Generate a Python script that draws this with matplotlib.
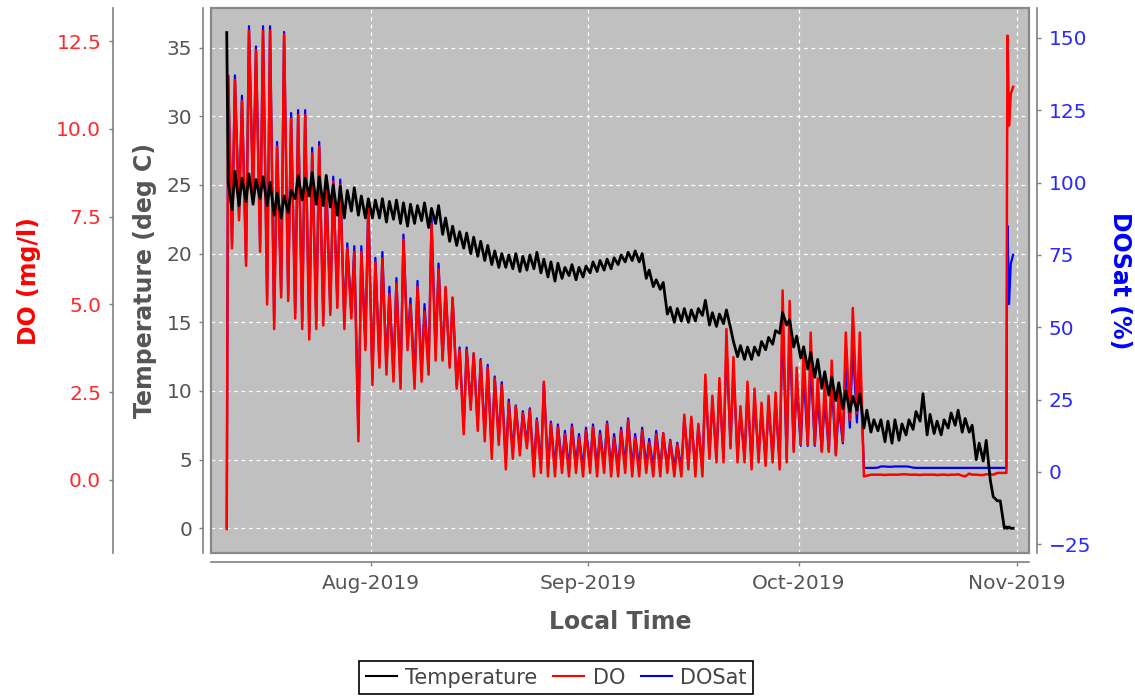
import numpy as np
import matplotlib
matplotlib.use("Agg")
import matplotlib.pyplot as plt
import matplotlib.dates as mdates
from matplotlib.patches import Rectangle

# Daily readings, 2019-07-12 .. 2019-10-29
# (one morning value ~06:00, one afternoon value ~16:00 per day)
first_day = "2019-07-12"

temp_am = [
    23.2, 23.5, 23.8, 23.6, 24.0, 23.5, 22.8, 22.6, 23.0, 24.0,
    23.9, 24.2, 23.6, 23.5, 23.4, 22.8, 22.6, 23.1, 22.8, 22.6,
    22.6, 22.6, 22.3, 22.5, 22.2, 22.0, 22.2, 22.4, 21.9, 22.2,
    21.4, 20.9, 20.6, 20.4, 20.0, 19.8, 19.5, 19.2, 19.0, 19.0,
    18.9, 18.7, 18.8, 18.9, 18.6, 18.3, 18.0, 18.2, 18.4, 18.1, 18.3,
    18.6, 18.7, 18.8, 18.9, 19.2, 19.4, 19.5, 19.4, 18.2, 17.6,
    17.4, 15.6, 15.0, 15.1, 15.0, 15.1, 15.5, 14.8, 14.7, 14.9,
    14.6, 12.5, 12.3, 12.3, 12.6, 13.0, 13.4, 14.2, 14.8, 13.2,
    12.4, 11.6, 11.0, 10.2, 9.7, 9.3, 8.7, 8.5, 8.6, 7.3,
    7.0, 7.1, 6.3, 6.2, 6.4, 6.8, 7.2, 7.8, 6.8, 6.9,
    6.8, 7.3, 7.5, 7.0, 7.0, 5.0, 4.9, 3.5, 2.0,
]
temp_pm = [
    26.0, 25.5, 25.8, 25.4, 25.6, 25.2, 24.4, 24.2, 24.6, 25.7,
    25.5, 25.9, 25.6, 25.7, 25.0, 24.9, 24.6, 24.8, 24.2, 24.0,
    23.9, 24.0, 23.8, 23.9, 23.7, 23.6, 23.5, 23.7, 23.3, 23.5,
    22.6, 22.0, 21.6, 21.5, 21.2, 20.9, 20.6, 20.2, 20.0, 19.9,
    20.0, 19.8, 19.9, 20.1, 19.6, 19.4, 19.3, 19.0, 19.2, 19.0, 19.1,
    19.4, 19.5, 19.6, 19.7, 19.9, 20.1, 20.2, 20.0, 18.8, 18.1,
    17.9, 16.1, 16.0, 16.0, 15.9, 16.0, 16.6, 15.7, 15.6, 15.9,
    13.6, 13.3, 13.2, 13.2, 13.6, 13.9, 14.4, 15.7, 15.2, 14.0,
    13.2, 12.8, 12.3, 11.4, 11.0, 10.6, 10.0, 9.6, 9.8, 8.6,
    7.9, 7.9, 7.8, 7.9, 7.6, 7.9, 8.5, 9.8, 8.3, 7.8,
    7.9, 8.4, 8.6, 8.0, 7.5, 6.2, 6.4, 2.3, 2.0,
]

do_am = [
    6.6, 7.4, 6.1, 8.0, 6.5, 5.0, 4.3, 5.2, 5.1, 4.6,
    4.3, 4.0, 4.3, 4.4, 4.7, 4.9, 4.3, 4.6, 1.1, 3.7,
    2.7, 3.2, 3.0, 2.8, 2.6, 3.7, 2.6, 2.8, 3.0, 3.4,
    3.4, 3.2, 2.6, 1.3, 2.0, 1.4, 1.1, 0.6, 1.0, 0.3,
    0.6, 0.7, 0.9, 0.1, 0.2, 0.1, 0.1, 0.2, 0.1, 0.2, 0.1,
    0.2, 0.1, 0.2, 0.1, 0.1, 0.2, 0.1, 0.1, 0.2, 0.1,
    0.1, 0.2, 0.1, 0.1, 0.3, 0.1, 0.1, 0.6, 0.5, 0.5,
    0.9, 0.5, 0.5, 0.3, 0.5, 0.4, 0.5, 0.3, 0.5, 0.8,
    1.0, 1.0, 1.0, 0.8, 0.8, 0.7, 1.1, 1.7, 1.9, 0.10,
    0.15, 0.15, 0.14, 0.15, 0.15, 0.16, 0.15, 0.14, 0.15, 0.15,
    0.15, 0.14, 0.15, 0.12, 0.18, 0.15, 0.14, 0.16, 0.2,
]
do_pm = [
    11.4, 10.8, 12.8, 12.25, 12.8, 12.8, 9.5, 12.7, 10.3, 10.4,
    10.4, 9.3, 9.5, 8.4, 8.5, 8.4, 6.6, 6.5, 6.5, 7.8,
    6.2, 6.3, 5.3, 5.6, 6.85, 5.0, 5.5, 4.8, 7.3, 6.0,
    5.5, 5.2, 3.7, 3.7, 3.6, 3.4, 3.2, 2.9, 2.7, 2.2,
    2.1, 1.9, 2.0, 1.7, 2.8, 1.6, 1.5, 1.3, 1.5, 1.2, 1.4,
    1.5, 1.3, 1.6, 1.2, 1.4, 1.7, 1.2, 1.4, 1.05, 1.3,
    1.33, 1.1, 1.0, 1.86, 1.8, 1.6, 3.0, 2.4, 2.9, 4.3,
    3.5, 2.1, 2.8, 2.6, 2.2, 2.4, 2.5, 5.4, 5.1, 3.2,
    3.8, 4.2, 2.9, 2.8, 3.4, 2.5, 4.2, 4.9, 4.2, 0.12,
    0.15, 0.15, 0.15, 0.15, 0.16, 0.15, 0.15, 0.15, 0.15, 0.14,
    0.15, 0.15, 0.16, 0.10, 0.15, 0.14, 0.16, 0.15, 0.2,
]

sat_am = [
    79, 89, 73, 96, 78, 60, 52, 62, 61, 55,
    52, 48, 52, 53, 56, 59, 52, 55, 13, 44,
    32, 38, 36, 34, 31, 44, 31, 34, 36, 41,
    39, 37, 30, 15, 23, 16, 13, 7, 11, 3.5,
    6.5, 7.6, 9.8, 1.1, 2.2, 1.1, 1.1, 2.2, 1.1, 2.2, 1.1,
    2.2, 1.1, 2.2, 1.1, 1.1, 2.2, 1.1, 1.1, 2.2, 1.1,
    1.0, 2.0, 1.0, 1.0, 3.0, 1.0, 1.0, 6.1, 5.1, 5.1,
    9.1, 4.9, 4.9, 2.9, 4.9, 3.9, 4.9, 2.9, 4.9, 7.8,
    9.0, 9.0, 9.0, 7.2, 7.2, 6.3, 9.9, 15.3, 17.1, 1.4,
    1.4, 1.5, 1.9, 1.8, 1.9, 1.9, 1.5, 1.4, 1.4, 1.4,
    1.4, 1.4, 1.4, 1.4, 1.4, 1.4, 1.4, 1.4, 1.4,
]
sat_pm = [
    137, 130, 154, 147, 154, 154, 114, 152, 124, 125,
    125, 112, 114, 101, 102, 101, 79, 78, 78, 94,
    74, 76, 64, 67, 82, 60, 66, 58, 88, 72,
    63, 60, 43, 43, 41, 39, 37, 33, 31, 25,
    23, 21, 22, 18.5, 30.5, 17.4, 16.4, 14.2, 16.4, 13.1, 15.3,
    16.4, 14.2, 17.4, 13.1, 15.3, 18.5, 13.1, 15.3, 11.4, 14.2,
    13.4, 11.1, 10.1, 18.8, 18.2, 16.2, 30.3, 24.2, 29.3, 43.4,
    35.4, 20.4, 27.2, 25.2, 21.3, 23.3, 24.3, 52.4, 49.5, 31.0,
    34.2, 37.8, 26.1, 25.2, 30.6, 22.5, 37.8, 44.1, 37.8, 1.4,
    1.4, 1.9, 1.8, 1.9, 1.9, 1.8, 1.4, 1.4, 1.4, 1.4,
    1.4, 1.4, 1.4, 1.4, 1.4, 1.4, 1.4, 1.4, 1.4,
]

# logger switched on in air, then deployed
head_times = ["2019-07-11T12:00", "2019-07-11T17:00"]
head_temp = [36.1, 25.2]
head_do = [-1.4, 11.5]
head_sat = [-19.0, 137.0]

# retrieval at the end
tail_times = ["2019-10-30T06:00", "2019-10-30T13:00", "2019-10-30T15:00",
              "2019-10-30T17:00", "2019-10-30T22:00", "2019-10-31T04:00",
              "2019-10-31T12:00"]
tail_temp = [0.0, 0.1, 0.0, 0.0, 0.1, 0.0, 0.0]
tail_do = [0.2, 0.2, 8.6, 12.66, 10.1, 11.0, 11.2]
tail_sat = [1.4, 1.4, 60, 85, 58, 72, 75]


def build(head, am, pm, tail):
    vals = np.empty(2 * len(am))
    vals[0::2] = am
    vals[1::2] = pm
    return np.concatenate([head, vals, tail])


n = len(temp_am)
days = np.datetime64(first_day, "m") + np.arange(n) * np.timedelta64(1, "D")
t_daily = np.empty(2 * n, dtype="datetime64[m]")
t_daily[0::2] = days + np.timedelta64(6, "h")
t_daily[1::2] = days + np.timedelta64(16, "h")
times = np.concatenate([np.array(head_times, dtype="datetime64[m]"), t_daily,
                        np.array(tail_times, dtype="datetime64[m]")])

temp = build(head_temp, temp_am, temp_pm, tail_temp)
do = build(head_do, do_am, do_pm, tail_do)
dosat = build(head_sat, sat_am, sat_pm, tail_sat)

grey = "#808080"
txt = "#555555"

fig = plt.figure(figsize=(11.35, 7.0), dpi=100)
ax = fig.add_axes([0.1856, 0.2096, 0.7212, 0.7786])
ax.set_facecolor("#C0C0C0")
ax_do = ax.twinx()
ax_sat = ax.twinx()

# all lines live in the host axes so they share one z-order, each with its own y-scale
l_sat, = ax.plot(times, dosat, color="blue", lw=1.6, transform=ax_sat.transData, zorder=2)
l_do, = ax.plot(times, do, color="red", lw=1.8, transform=ax_do.transData, zorder=3)
l_t, = ax.plot(times, temp, color="black", lw=2.0, zorder=4)

ax.set_xlim(np.datetime64("2019-07-09T05:00"), np.datetime64("2019-11-02T19:00"))
ax.set_ylim(-1.82, 37.87)
ax_do.set_ylim(-2.09, 13.44)
ax_sat.set_ylim(-28.1, 160.2)

ax.xaxis.set_major_locator(mdates.MonthLocator())
ax.xaxis.set_major_formatter(mdates.DateFormatter("%b-%Y"))
ax.set_yticks(np.arange(0, 36, 5))
ax_do.set_yticks(np.arange(0, 12.6, 2.5))
ax_do.yaxis.set_major_formatter(matplotlib.ticker.FormatStrFormatter("%.1f"))
ax_sat.set_yticks(np.arange(-25, 151, 25))

ax.grid(True, color="white", linestyle=(0, (3, 3)), lw=0.9)
ax.set_axisbelow(True)

# spines
for s in ["top", "right"]:
    ax.spines[s].set_visible(False)
ax.spines["left"].set_position(("outward", 5.8))
ax.spines["bottom"].set_position(("outward", 6.0))
for s in ["left", "bottom"]:
    ax.spines[s].set_color(grey)
    ax.spines[s].set_linewidth(1.2)

for s in ["top", "right", "bottom"]:
    ax_do.spines[s].set_visible(False)
ax_do.spines["left"].set_visible(True)
ax_do.spines["left"].set_position(("outward", 70.3))
ax_do.spines["left"].set_color(grey)
ax_do.spines["left"].set_linewidth(1.2)
ax_do.yaxis.tick_left()
ax_do.yaxis.set_label_position("left")

for s in ["top", "left", "bottom"]:
    ax_sat.spines[s].set_visible(False)
ax_sat.spines["right"].set_position(("outward", 5.8))
ax_sat.spines["right"].set_color(grey)
ax_sat.spines["right"].set_linewidth(1.2)

frame = Rectangle((0, 0), 1, 1, transform=ax.transAxes, fill=False,
                  edgecolor="#888888", lw=1.6, zorder=5, clip_on=False)
ax.add_patch(frame)

ax.tick_params(axis="both", direction="out", length=3, width=1, color=grey,
               labelcolor=txt, labelsize=14.5)
ax.tick_params(axis="y", pad=4.5)
ax.tick_params(axis="x", pad=6)
ax_do.tick_params(axis="y", direction="out", length=3, width=1, color=grey,
                  labelcolor="#ff2a2a", labelsize=14.5, pad=5.5)
ax_sat.tick_params(axis="y", direction="out", length=3, width=1, color=grey,
                   labelcolor="#2a2aff", labelsize=14.5, pad=5)

lab = dict(fontsize=17, fontweight="bold")
ax.set_ylabel("Temperature (deg C)", color=txt, labelpad=7, **lab)
ax.set_xlabel("Local Time", color=txt, labelpad=12, **lab)
ax_do.set_ylabel("DO (mg/l)", color="red", labelpad=11, **lab)
ax_sat.set_ylabel("DOSat (%)", color="blue", rotation=270, va="bottom", labelpad=12, **lab)

leg = fig.legend([l_t, l_do, l_sat], ["Temperature", "DO", "DOSat"],
                 loc="center", bbox_to_anchor=(0.49, 0.032), ncol=3,
                 frameon=True, fancybox=False, edgecolor="black", framealpha=1,
                 fontsize=15, handlelength=1.5, handletextpad=0.4,
                 columnspacing=0.75, borderpad=0.3)
leg.get_frame().set_linewidth(1.2)
for tx in leg.get_texts():
    tx.set_color("#444444")
for h in leg.get_lines():
    h.set_linewidth(1.5)

fig.savefig("out.png", dpi=100)
